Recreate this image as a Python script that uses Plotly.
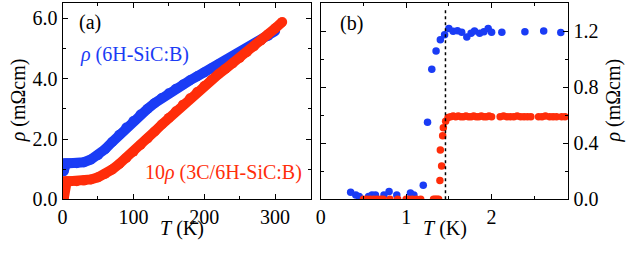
import plotly.graph_objects as go

# ---- Panel (a): rho vs T (0-310 K) ----
a_blue_T = [1.5, 2, 3, 5, 10, 20, 30, 40, 50, 60, 70, 80, 90, 100, 110, 120, 130, 140, 150,
            160, 170, 180, 190, 200, 210, 220, 230, 240, 250, 260, 270, 280, 290, 300]
a_blue_rho = [0.92, 1.05, 1.15, 1.2, 1.2, 1.2, 1.23, 1.32, 1.46, 1.66, 1.9, 2.14, 2.38, 2.6, 2.81,
              3.0, 3.19, 3.36, 3.52, 3.67, 3.81, 3.95, 4.08, 4.21, 4.34, 4.47, 4.6, 4.73, 4.86,
              5.0, 5.14, 5.28, 5.42, 5.58]
a_red_T = [1.5, 2, 2.5, 3, 4, 6, 10, 20, 30, 40, 50, 60, 70, 80, 90, 100, 110, 120, 130, 140,
           150, 160, 170, 180, 190, 200, 210, 220, 230, 240, 250, 260, 270, 280, 290, 300, 310]
a_red_rho = [0.0, 0.15, 0.32, 0.48, 0.58, 0.6, 0.6, 0.6, 0.62, 0.66, 0.73, 0.84, 0.99, 1.17, 1.37,
             1.58, 1.8, 2.02, 2.25, 2.48, 2.7, 2.92, 3.14, 3.35, 3.56, 3.76, 3.96, 4.15, 4.33,
             4.51, 4.69, 4.88, 5.07, 5.27, 5.47, 5.67, 5.88]

# ---- Panel (b): low temperature (0-2.9 K) ----
b_blue_T = [0.35, 0.41, 0.45, 0.56, 0.60, 0.64, 0.74, 0.80, 0.89, 1.05, 1.09, 1.20, 1.25, 1.30,
            1.35, 1.40, 1.45, 1.50, 1.55, 1.60, 1.65, 1.71, 1.76, 1.80, 1.86, 1.91, 1.96, 2.00,
            2.12, 2.39, 2.61, 2.81]
b_blue_rho = [0.05, 0.03, 0.02, 0.02, 0.03, 0.03, 0.03, 0.055, 0.03, 0.045, 0.03, 0.10, 0.55,
              0.93, 1.06, 1.14, 1.175, 1.22, 1.20, 1.205, 1.193, 1.16, 1.187, 1.202, 1.187,
              1.198, 1.221, 1.193, 1.193, 1.198, 1.202, 1.191]
b_red_T = [0.50, 0.54, 0.58, 0.62, 0.66, 0.70, 0.73, 0.81, 0.90, 1.00, 1.03, 1.07, 1.12, 1.17,
           1.32, 1.34, 1.36, 1.38, 1.395, 1.415, 1.40, 1.427, 1.435, 1.462, 1.49,
           1.52, 1.55, 1.58, 1.61, 1.64, 1.67, 1.70, 1.73, 1.76, 1.79, 1.82, 1.85, 1.88, 1.91,
           1.94, 1.97, 2.00, 2.10, 2.14, 2.18, 2.22, 2.26, 2.30, 2.34, 2.38, 2.42, 2.46, 2.55,
           2.59, 2.63, 2.68, 2.72, 2.76, 2.82, 2.86]
b_red_rho = [0.0, 0.0, 0.0, 0.0, 0.0, 0.0, 0.0, 0.0, 0.0, 0.0, 0.0, 0.0, 0.0, 0.0,
             0.0, 0.0, 0.0, 0.0, 0.135, 0.238, 0.352, 0.455, 0.512, 0.558, 0.585,
             0.59, 0.595, 0.59, 0.595, 0.59, 0.59, 0.595, 0.59, 0.59, 0.595, 0.59, 0.59, 0.595,
             0.59, 0.59, 0.595, 0.59, 0.59, 0.595, 0.59, 0.59, 0.59, 0.595, 0.59, 0.59, 0.59,
             0.59, 0.59, 0.59, 0.595, 0.59, 0.59, 0.59, 0.59, 0.59]
tc_line_T = 1.46

BLUE = "#1a3cf5"
RED = "#ff2d0a"
FONT = "Liberation Serif"

fig = go.Figure()
fig.add_trace(go.Scatter(x=a_blue_T, y=a_blue_rho, mode="lines+markers",
                         line=dict(color=BLUE, width=10), marker=dict(color=BLUE, size=10),
                         xaxis="x", yaxis="y", showlegend=False, hoverinfo="skip"))
fig.add_trace(go.Scatter(x=a_red_T, y=a_red_rho, mode="lines+markers",
                         line=dict(color=RED, width=10), marker=dict(color=RED, size=10),
                         xaxis="x", yaxis="y", showlegend=False, hoverinfo="skip"))
fig.add_trace(go.Scatter(x=b_blue_T, y=b_blue_rho, mode="markers",
                         marker=dict(color=BLUE, size=7.5),
                         xaxis="x2", yaxis="y2", showlegend=False, hoverinfo="skip"))
fig.add_trace(go.Scatter(x=b_red_T, y=b_red_rho, mode="markers",
                         marker=dict(color=RED, size=7.5),
                         xaxis="x2", yaxis="y2", showlegend=False, hoverinfo="skip"))

W, H = 626, 255
def px(x):
    return x / W
def py(y):
    return 1 - y / H

def ax_common():
    return dict(showline=True, linecolor="black", linewidth=1, mirror="ticks",
                ticks="inside", ticklen=5, tickcolor="black", showgrid=False,
                zeroline=False, tickfont=dict(family=FONT, size=20, color="black"))

fig.update_layout(
    width=W, height=H, autosize=False, margin=dict(l=0, r=0, t=0, b=0, pad=0),
    paper_bgcolor="white", plot_bgcolor="white",
    font=dict(family=FONT, size=20, color="black"),
    xaxis=dict(domain=[px(58), px(308)], range=[0, 350], dtick=100, tick0=0,
               minor=dict(dtick=50, ticks="inside", ticklen=3, tickcolor="black"),
               anchor="y", **ax_common()),
    yaxis=dict(domain=[py(208.3), py(3.5)], range=[0, 6.5], dtick=2, tick0=0,
               tickformat=".1f",
               minor=dict(dtick=1, ticks="inside", ticklen=3, tickcolor="black"),
               anchor="x", **ax_common()),
    xaxis2=dict(domain=[px(318.3), px(568)], range=[0, 2.9], dtick=1, tick0=0,
                minor=dict(dtick=0.5, ticks="inside", ticklen=3, tickcolor="black"),
                anchor="y2", **ax_common()),
    yaxis2=dict(domain=[py(208.3), py(3.5)], range=[0, 1.4], dtick=0.4, tick0=0,
                tickformat=".1f", side="right",
                minor=dict(dtick=0.2, ticks="inside", ticklen=3, tickcolor="black"),
                anchor="x2", **ax_common()),
)

fig.add_shape(type="line", xref="x2", yref="y2", x0=tc_line_T, x1=tc_line_T, y0=0, y1=1.36,
              line=dict(color="black", width=1.5, dash="dot"))

def ann(text, x, y, color="black", angle=0, xanchor="center"):
    fig.add_annotation(text=text, xref="paper", yref="paper", x=px(x), y=py(y),
                       xanchor=xanchor, yanchor="middle", showarrow=False, textangle=angle,
                       font=dict(family=FONT, size=20, color=color))

ann("(a)", 86, 24)
ann("(b)", 349, 25)
ann("<i>ρ</i> (6H-SiC:B)", 74, 57, color=BLUE, xanchor="left")
ann("10<i>ρ</i> (3C/6H-SiC:B)", 139, 180, color=RED, xanchor="left")
ann("<i>T</i> (K)", 178, 239)
ann("<i>T</i> (K)", 444, 239)
ann("<i>ρ</i> (mΩcm)", 14, 105, angle=-90)
ann("<i>ρ</i> (mΩcm)", 613, 105, angle=-90)

fig.write_html("out.html",
               config={"displayModeBar": False, "staticPlot": True, "responsive": False},
               post_script="document.body.style.margin='0';document.body.style.overflow='hidden';")
